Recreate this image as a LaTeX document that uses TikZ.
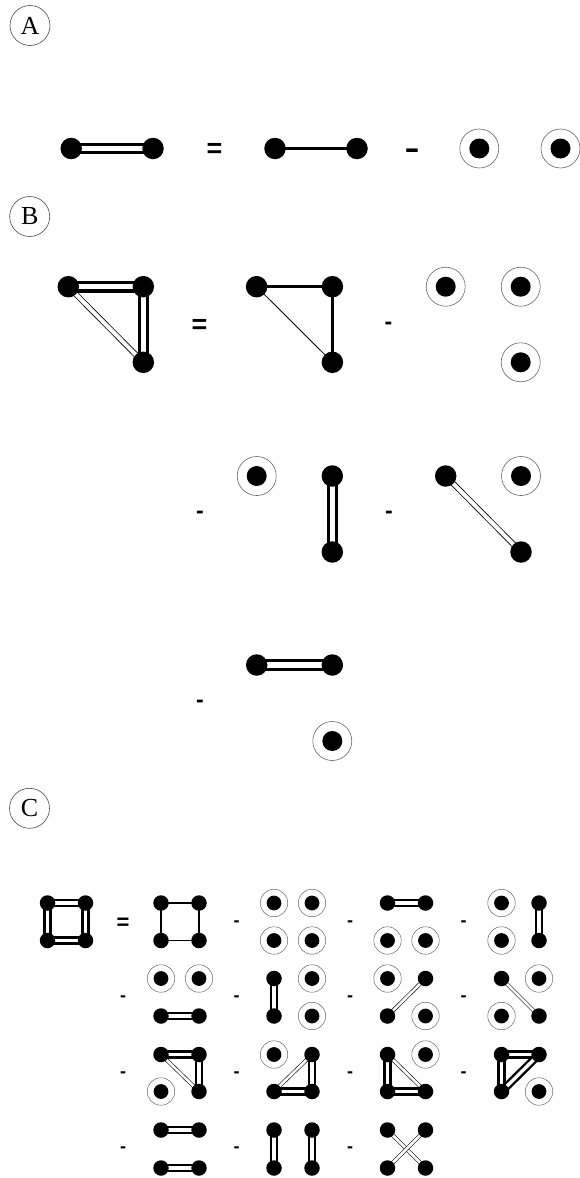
\documentclass[tikz,border=0pt]{standalone}
\usepackage{fontspec}
\setmainfont{Liberation Serif}
\newfontfamily\signfont{Liberation Sans}
\usetikzlibrary{backgrounds}

\begin{document}
\begin{tikzpicture}[
    x=1pt,y=-1pt,
    lbl/.style={circle,draw=black!70,line width=0.6pt,minimum size=40pt,inner sep=0pt,font=\fontsize{26}{26}\selectfont},
    dot/.style={circle,fill=black,minimum size=21.5pt,inner sep=0pt},
    sdot/.style={circle,fill=black,minimum size=15.5pt,inner sep=0pt},
    ring/.style={circle,draw=black!60,line width=0.6pt,minimum size=39pt,inner sep=0pt,
      path picture={\fill (path picture bounding box.center) circle (10pt);}},
    sring/.style={circle,draw=black!60,line width=0.5pt,minimum size=27.5pt,inner sep=0pt,
      path picture={\fill (path picture bounding box.center) circle (7.4pt);}},
    sign/.style={inner sep=0pt,font=\signfont\bfseries\fontsize{#1}{#1}\selectfont},
    dbl/.style={draw=black,double=white,double distance=5.2pt,line width=3.2pt},
    dblh/.style={draw=black,double=white,double distance=4pt,line width=0.8pt},
    bond/.style={draw=black,line width=2.5pt},
    bondh/.style={draw=black,line width=0.8pt},
    dblc/.style={draw=black,double=white,double distance=3.4pt,line width=2.4pt},
    dblhc/.style={draw=black,double=white,double distance=2.6pt,line width=0.6pt},
    bondc/.style={draw=black,line width=1.8pt}
  ]
  \useasboundingbox (0,0) rectangle (579,1178);

  % A
  \node[lbl] (la) at (30,25.5) {A};
  \node[dot] (a1) at (71.2,148.5) {};
  \node[dot] (a2) at (153,148.5) {};
  \node[sign=27] (eqa) at (214.5,150) {=};
  \node[dot] (a3) at (275,148.5) {};
  \node[dot] (a4) at (357,148.5) {};
  \node[sign=30] (mia) at (412,153.5) {\scalebox{1.5}[1]{-}};
  \node[ring] (a5) at (479.3,148.5) {};
  \node[ring] (a6) at (560.5,148.5) {};

  % B
  \node[lbl] (lb) at (29.7,216.5) {B};
  \node[dot] (b1) at (68.3,286.7) {};
  \node[dot] (b2) at (143.3,286.7) {};
  \node[dot] (b3) at (143.3,362.3) {};
  \node[sign=27] (eqb) at (199.4,326) {=};
  \node[dot] (b4) at (256.6,286.7) {};
  \node[dot] (b5) at (332.4,286.7) {};
  \node[dot] (b6) at (332.4,362.3) {};
  \node[sign=23] (mib1) at (388.5,325.8) {-};
  \node[ring] (b7) at (445.7,286.7) {};
  \node[ring] (b8) at (520.7,286.7) {};
  \node[ring] (b9) at (520.7,362.3) {};
  \node[sign=23] (mib2) at (200,514.5) {-};
  \node[ring] (b10) at (256.7,476) {};
  \node[dot] (b11) at (332.3,476) {};
  \node[dot] (b12) at (332.3,552) {};
  \node[sign=23] (mib3) at (389,514.5) {-};
  \node[dot] (b13) at (445.7,476) {};
  \node[dot] (b14) at (521,552) {};
  \node[ring] (b15) at (521,476) {};
  \node[dot] (b16) at (256.7,665) {};
  \node[dot] (b17) at (332.3,665) {};
  \node[sign=23] (mib4) at (200,703.5) {-};
  \node[ring] (b18) at (332.3,741) {};

  % C
  \node[lbl] (lc) at (29.5,808.3) {C};
  \node[sign=22] (eqc) at (123,923.5) {=};
  \foreach \x/\y [count=\i] in {236.5/923.5, 350/923.5, 463.5/923.5,
      123/998.5, 236.5/998.5, 350/998.5, 463.5/998.5,
      123/1074.5, 236.5/1074.5, 350/1074.5, 463.5/1074.5,
      123/1149.5, 236.5/1149.5, 350/1149.5}
    \node[sign=18] (mic\i) at (\x,\y) {-};
  \foreach \n/\x/\y in {c0a/47.5/903, c0b/85.5/903, c0c/47.5/940.5, c0d/85.5/940.5,
      c11a/161/903, c11b/199/903, c11c/161/940.5, c11d/199/940.5,
      c13a/387.5/903, c13b/425.5/903, c14b/539/903, c14d/539/940.5,
      c21c/161/1016, c21d/199/1016, c22a/274/978.5, c22c/274/1016,
      c23b/425.5/978.5, c23c/387.5/1016, c24a/501.5/978.5, c24d/539/1016,
      c31a/161/1054.5, c31b/199/1054.5, c31d/199/1091.5,
      c32b/312/1054.5, c32c/274/1091.5, c32d/312/1091.5,
      c33a/387.5/1054.5, c33c/387.5/1091.5, c33d/425.5/1091.5,
      c34a/501.5/1054.5, c34b/539/1054.5, c34c/501.5/1091.5,
      c41a/161/1130, c41b/199/1130, c41c/161/1168, c41d/199/1168,
      c42a/274/1130, c42b/312/1130, c42c/274/1168, c42d/312/1168,
      c43a/387.5/1130, c43b/425.5/1130, c43c/387.5/1168, c43d/425.5/1168}
    \node[sdot] (\n) at (\x,\y) {};
  \foreach \n/\x/\y in {c12a/274/903, c12b/312/903, c12c/274/940.5, c12d/312/940.5,
      c13c/387.5/940.5, c13d/425.5/940.5, c14a/501.5/903, c14c/501.5/940.5,
      c21a/161/978.5, c21b/199/978.5, c22b/312/978.5, c22d/312/1016,
      c23a/387.5/978.5, c23d/425.5/1016, c24b/539/978.5, c24c/501.5/1016,
      c31c/161/1091.5, c32a/274/1054.5, c33b/425.5/1054.5, c34d/539/1091.5}
    \node[sring] (\n) at (\x,\y) {};

  % bonds go behind the dots
  \begin{scope}[on background layer]
    \draw[dbl] (a1.center) -- (a2.center);
    \draw[bond] (a3.center) -- (a4.center);
    \draw[dbl] (b1.center) -- (b2.center);
    \draw[dbl] (b2.center) -- (b3.center);
    \draw[dblh] (b1.center) -- (b3.center);
    \draw[bond] (b4.center) -- (b5.center) -- (b6.center);
    \draw[bondh] (b4.center) -- (b6.center);
    \draw[dbl] (b11.center) -- (b12.center);
    \draw[dblh] (b13.center) -- (b14.center);
    \draw[dbl] (b16.center) -- (b17.center);
    % C
    \draw[dblc] (c0a.center) -- (c0b.center);
    \draw[dblc] (c0c.center) -- (c0d.center);
    \draw[dblc] (c0a.center) -- (c0c.center);
    \draw[dblc] (c0b.center) -- (c0d.center);
    \draw[bondc] (c11a.center) -- (c11b.center) -- (c11d.center) -- (c11c.center) -- cycle;
    \draw[dblc] (c13a.center) -- (c13b.center);
    \draw[dblc] (c14b.center) -- (c14d.center);
    \draw[dblc] (c21c.center) -- (c21d.center);
    \draw[dblc] (c22a.center) -- (c22c.center);
    \draw[dblhc] (c23c.center) -- (c23b.center);
    \draw[dblhc] (c24a.center) -- (c24d.center);
    \draw[dblc] (c31a.center) -- (c31b.center);
    \draw[dblc] (c31b.center) -- (c31d.center);
    \draw[dblhc] (c31a.center) -- (c31d.center);
    \draw[dblc] (c32c.center) -- (c32d.center);
    \draw[dblc] (c32b.center) -- (c32d.center);
    \draw[dblhc] (c32c.center) -- (c32b.center);
    \draw[dblc] (c33a.center) -- (c33c.center);
    \draw[dblc] (c33c.center) -- (c33d.center);
    \draw[dblhc] (c33a.center) -- (c33d.center);
    \draw[dblc] (c34a.center) -- (c34b.center);
    \draw[dblc] (c34a.center) -- (c34c.center);
    \draw[dblc] (c34c.center) -- (c34b.center);
    \draw[dblc] (c41a.center) -- (c41b.center);
    \draw[dblc] (c41c.center) -- (c41d.center);
    \draw[dblc] (c42a.center) -- (c42c.center);
    \draw[dblc] (c42b.center) -- (c42d.center);
    \draw[dblhc] (c43a.center) -- (c43d.center);
    \draw[dblhc] (c43c.center) -- (c43b.center);
  \end{scope}
\end{tikzpicture}
\end{document}
